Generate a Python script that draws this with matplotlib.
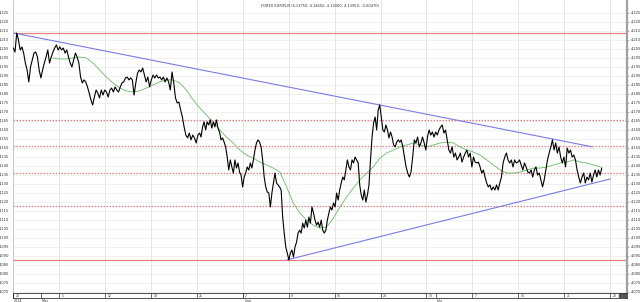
import numpy as np
import matplotlib
matplotlib.use("Agg")
import matplotlib.pyplot as plt

title = "FOREX EUR/PLN (4.13750, 4.14650, 4.13000, 4.13950, -0.00470)"

# price segments (x in trading days since Apr 28)
seg1_days = (0.0, 20.3)
price_seg1 = [4.2054, 4.2032, 4.2137, 4.2099, 4.2043, 4.2060, 4.2026, 4.1971, 4.1932, 4.1866,
              4.1949, 4.1988, 4.2026, 4.2032, 4.2004, 4.1932, 4.1888, 4.1932, 4.1971, 4.2004,
              4.2043, 4.1971, 4.2004, 4.2032, 4.2054, 4.2071, 4.2043, 4.2060, 4.2043, 4.2054,
              4.2026, 4.2043, 4.2004, 4.1971, 4.1949, 4.1988, 4.2026, 4.2004, 4.1971, 4.1893,
              4.1860, 4.1877, 4.1866, 4.1838, 4.1804, 4.1766, 4.1738, 4.1782, 4.1821, 4.1804,
              4.1777, 4.1821, 4.1793, 4.1821, 4.1810, 4.1782, 4.1821, 4.1832, 4.1810, 4.1838,
              4.1821, 4.1810, 4.1838, 4.1860, 4.1866, 4.1888, 4.1893, 4.1877, 4.1888, 4.1877,
              4.1793, 4.1860, 4.1915, 4.1932, 4.1921, 4.1943, 4.1904, 4.1866, 4.1893, 4.1838,
              4.1877, 4.1904, 4.1888, 4.1904, 4.1888, 4.1893, 4.1877, 4.1893, 4.1866, 4.1888,
              4.1866, 4.1821, 4.1921, 4.1860, 4.1777, 4.1749, 4.1754, 4.1710, 4.1671, 4.1616,
              4.1571, 4.1555, 4.1582, 4.1544, 4.1571, 4.1555, 4.1527, 4.1571, 4.1582]
seg2_days = (20.45, 42.1)
price_seg2 = [4.1560, 4.1616, 4.1644, 4.1599, 4.1644, 4.1627, 4.1655, 4.1610, 4.1644, 4.1616,
              4.1655, 4.1610, 4.1588, 4.1544, 4.1555, 4.1532, 4.1505, 4.1449, 4.1377, 4.1433,
              4.1394, 4.1360, 4.1433, 4.1388, 4.1416, 4.1366, 4.1349, 4.1283, 4.1338, 4.1360,
              4.1394, 4.1377, 4.1416, 4.1388, 4.1433, 4.1488, 4.1527, 4.1544, 4.1532, 4.1505,
              4.1433, 4.1338, 4.1283, 4.1255, 4.1249, 4.1172, 4.1249, 4.1305, 4.1360, 4.1305,
              4.1294, 4.1283, 4.1266, 4.1116, 4.1027, 4.0950, 4.0916, 4.0878, 4.0916, 4.0933,
              4.0894, 4.0950, 4.0977, 4.1027, 4.1043, 4.1027, 4.1082, 4.1055, 4.1099, 4.1060,
              4.1116, 4.1082, 4.1172, 4.1138, 4.1099, 4.1071, 4.1088, 4.1060, 4.1099, 4.1043,
              4.1027, 4.1043, 4.1099, 4.1138, 4.1172, 4.1155, 4.1194, 4.1172, 4.1249, 4.1210,
              4.1266, 4.1305, 4.1338, 4.1322, 4.1377, 4.1433, 4.1394, 4.1377, 4.1433, 4.1416,
              4.1449, 4.1433, 4.1416, 4.1294, 4.1238, 4.1210, 4.1266, 4.1199, 4.1238, 4.1294,
              4.1433, 4.1560, 4.1638, 4.1671, 4.1599, 4.1710, 4.1738, 4.1671, 4.1599, 4.1588,
              4.1627, 4.1599, 4.1555, 4.1588, 4.1560, 4.1516, 4.1505, 4.1532, 4.1544, 4.1532]
seg3_days = (42.25, 64.1)
price_seg3 = [4.1544, 4.1505, 4.1449, 4.1394, 4.1360, 4.1338, 4.1366, 4.1449, 4.1544, 4.1527,
              4.1560, 4.1505, 4.1527, 4.1560, 4.1527, 4.1488, 4.1560, 4.1599, 4.1571, 4.1588,
              4.1560, 4.1588, 4.1571, 4.1599, 4.1616, 4.1627, 4.1582, 4.1599, 4.1544, 4.1488,
              4.1471, 4.1505, 4.1449, 4.1471, 4.1433, 4.1449, 4.1471, 4.1421, 4.1449, 4.1471,
              4.1488, 4.1449, 4.1471, 4.1394, 4.1449, 4.1421, 4.1416, 4.1421, 4.1394, 4.1360,
              4.1377, 4.1338, 4.1305, 4.1283, 4.1294, 4.1266, 4.1283, 4.1266, 4.1294, 4.1266,
              4.1305, 4.1338, 4.1416, 4.1449, 4.1471, 4.1433, 4.1416, 4.1433, 4.1394, 4.1433,
              4.1416, 4.1421, 4.1433, 4.1405, 4.1377, 4.1416, 4.1394, 4.1366, 4.1360, 4.1377,
              4.1338, 4.1377, 4.1394, 4.1349, 4.1360, 4.1322, 4.1283, 4.1322, 4.1377, 4.1433,
              4.1471, 4.1505, 4.1544, 4.1488, 4.1527, 4.1471, 4.1505, 4.1449, 4.1416, 4.1449,
              4.1394, 4.1499, 4.1471, 4.1488, 4.1449, 4.1460, 4.1433, 4.1377, 4.1338, 4.1305,
              4.1338, 4.1360, 4.1305, 4.1338, 4.1322, 4.1360, 4.1310, 4.1349, 4.1377, 4.1338,
              4.1377, 4.1349, 4.1388]

ma_days = (4.32, 63.94)
ma_values = [4.1999, 4.1993, 4.1993, 4.1999, 4.2004, 4.1999, 4.1971, 4.1932, 4.1893, 4.1860,
             4.1832, 4.1816, 4.1810, 4.1816, 4.1832, 4.1849, 4.1866, 4.1877, 4.1877, 4.1860,
             4.1821, 4.1766, 4.1721, 4.1682, 4.1644, 4.1599, 4.1560, 4.1527, 4.1488, 4.1460,
             4.1444, 4.1421, 4.1405, 4.1388, 4.1366, 4.1283, 4.1194, 4.1138, 4.1099, 4.1071,
             4.1055, 4.1060, 4.1110, 4.1172, 4.1227, 4.1277, 4.1322, 4.1360, 4.1394, 4.1444,
             4.1471, 4.1488, 4.1505, 4.1516, 4.1527, 4.1516, 4.1505, 4.1516, 4.1527, 4.1532,
             4.1527, 4.1505, 4.1488, 4.1477, 4.1460, 4.1433, 4.1405, 4.1377, 4.1360, 4.1360,
             4.1366, 4.1377, 4.1388, 4.1388, 4.1394, 4.1405, 4.1416, 4.1421, 4.1433, 4.1421,
             4.1416, 4.1405, 4.1394]

upper_trend_x = [0.08, 63.04]
upper_trend_y = [4.2137, 4.1506]
lower_trend_x = [29.8, 65.0]
lower_trend_y = [4.0878, 4.1327]

fib_solid = [4.2137, 4.0878]
fib_dotted = [4.1175, 4.1359, 4.1508, 4.1656]

week_days = [0, 5, 10, 15, 20, 25, 30, 35, 40, 45, 50, 55, 60, 65]
week_labels = ["28", "5", "12", "19", "26", "2", "9", "16", "23", "30", "7", "14", "21", "28"]
month_days = [0, 3, 25, 46]
month_labels = ["2014", "May", "June", "July"]

y_ticks = np.round(np.arange(4.070, 4.2251, 0.005), 3)

fig = plt.figure(figsize=(6.4, 3.02), dpi=100)
ax = fig.add_axes([13/640, 9/302, 614/640, 293/302])
ax.set_xlim(-0.03, 66.85)
ax.set_ylim(4.06944, 4.23205)

for yt in y_ticks:
    ax.axhline(yt, color="#ececec", lw=0.5, zorder=0)
for d in week_days:
    ax.axvline(d, color="#e2e2e2", lw=0.6, zorder=0)

for v in fib_solid:
    ax.axhline(v, color="#e58080", lw=0.9, zorder=1)
for v in fib_dotted:
    ax.axhline(v, color="#e58080", lw=0.9, ls=(0, (1.2, 1.2)), zorder=1)

ax.plot(upper_trend_x, upper_trend_y, color="#7b7be6", lw=0.8, zorder=2)
ax.plot(lower_trend_x, lower_trend_y, color="#7b7be6", lw=0.8, zorder=2)

ax.plot(np.linspace(*ma_days, len(ma_values)), ma_values, color="#66bb66", lw=0.6, zorder=3)

for days, vals in ((seg1_days, price_seg1), (seg2_days, price_seg2), (seg3_days, price_seg3)):
    pass
px = np.concatenate([np.linspace(*seg1_days, len(price_seg1)),
                     np.linspace(*seg2_days, len(price_seg2)),
                     np.linspace(*seg3_days, len(price_seg3))])
py = np.concatenate([price_seg1, price_seg2, price_seg3])
ax.plot(px, py, color="black", lw=0.8, zorder=4)

ax.set_yticks(y_ticks)
ax.set_yticklabels([f"{t:.3f}" for t in y_ticks])
ax.tick_params(axis="y", which="both", labelleft=True, labelright=True, left=False, right=True,
               length=1.5, width=0.4, color="#777777", labelsize=2.6, pad=1, labelcolor="#333333")
ax.set_xticks([])
for s in ["top", "bottom"]:
    ax.spines[s].set_visible(False)
ax.spines["left"].set_color("#bbbbbb")
ax.spines["left"].set_linewidth(0.5)
ax.spines["right"].set_color("#a0a0a0")
ax.spines["right"].set_linewidth(1.6)

fig.text(320/640, 1 - 6/302, title, ha="center", va="center", fontsize=2.6, color="#333333")

bax = fig.add_axes([13/640, 4/302, 614/640, 5/302])
bax.set_xlim(-0.03, 66.85)
bax.set_ylim(0, 1)
bax.set_xticks([])
bax.set_yticks([])
for s in bax.spines.values():
    s.set_linewidth(0.6)
    s.set_color("#333333")
bax.axvspan(66.0, 66.85, color="#555555")
for d, lab in zip(week_days, week_labels):
    bax.axvline(d, color="#333333", lw=0.5)
    bax.text(d + 0.25, 0.45, lab, fontsize=2.2, va="center", ha="left", color="#333333")
for d, lab in zip(month_days, month_labels):
    bax.axvline(d, color="#333333", lw=0.5)
    bax.text(d + 0.1, -0.25, lab, fontsize=2.4, va="top", ha="left", color="#333333", clip_on=False)

fig.savefig("out.png", dpi=100, facecolor="white")
